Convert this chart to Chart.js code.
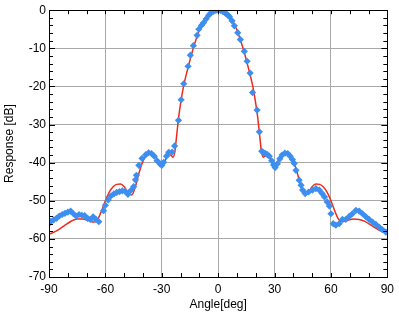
<!DOCTYPE html>
<html>
<head>
<meta charset="utf-8">
<script src="https://cdn.jsdelivr.net/npm/chart.js@4/dist/chart.umd.min.js"></script>
<style>
  html, body { margin: 0; padding: 0; background: #fff; }
  #wrap { width: 399px; height: 315px; }
</style>
</head>
<body>
<div id="wrap"><canvas id="beam"></canvas></div>
<script>
// model (red line)
const modelAngle = [-90, -86, -82, -78, -75, -72, -69, -66, -64, -62, -60, -58, -56, -54, -52, -50, -48, -46, -44, -42, -40, -38, -36.5, -35, -33, -31, -30, -29, -28, -27, -26, -25, -24, -23, -22, -21, -20, -19, -18, -16, -14, -12, -10, -8, -6, -4, -2, 0,
  2, 4, 6, 8, 10, 12, 14, 16, 18, 19, 20, 21, 22, 23, 24, 25, 26, 27, 28, 29, 30, 31, 33, 35, 36.5, 38, 40, 42, 44, 46, 48, 50, 52, 54, 56, 58, 60, 62, 64, 66, 69, 72, 75, 78, 82, 86, 90];
const modelDb = [-58.8, -57.9, -56.6, -55.3, -54.8, -54.8, -55.2, -55.6, -54.8, -52.6, -50.0, -47.8, -46.4, -45.7, -45.6, -46.3, -47.8, -48.5, -46.2, -42.5, -39.6, -37.8, -37.2, -37.5, -38.6, -40.2, -40.7, -40.3, -39.2, -38.2, -37.9, -38.1, -38.6, -37.0, -32.5, -28.0, -24.5, -21.5, -19.0, -15.0, -11.3, -8.0, -5.2, -3.1, -1.7, -0.7, -0.15, 0,
  -0.15, -0.7, -1.7, -3.1, -5.2, -8.0, -11.3, -15.0, -19.0, -21.5, -24.5, -28.0, -32.5, -37.0, -38.6, -38.1, -37.9, -38.2, -39.2, -40.3, -40.7, -40.2, -38.6, -37.5, -37.2, -37.8, -39.6, -42.5, -46.2, -48.5, -47.8, -46.3, -45.6, -45.7, -46.4, -47.8, -50.0, -52.6, -54.8, -55.5, -55.1, -54.8, -54.9, -55.4, -56.6, -57.8, -58.6];

// measured (blue diamonds)
const measAngle = [-90, -89, -87.5, -86, -84.5, -83, -81.5, -80, -78.5, -77, -75.5, -74, -72.5, -71, -69.5, -68, -66.5, -65, -63.5, -61, -60, -58.5, -57, -55.5, -54, -52.5, -51, -49.5, -48, -46.5, -45, -44, -43.5, -42.2, -40.5, -38.5, -37, -35.5, -34, -32.5, -31, -30, -29, -27.5, -26.3, -24.5, -23.2, -21.1, -19.7, -18.3, -16, -14.8, -13.2, -11.2, -10.3, -8.9, -7.8, -6.4, -5, -3.8, -2.5, -1.2, 0,
  1.2, 2.4, 3.4, 4.2, 5.2, 6, 7.4, 8.6, 10.4, 11.8, 13.9, 15.4, 17, 18.3, 20.7, 21.9, 23.2, 24.2, 25.2, 26.2, 27.2, 28.5, 29.5, 30.3, 31.5, 32.8, 34, 35.5, 37, 38.3, 39.5, 40.5, 41.4, 43.1, 44.1, 44.9, 46.3, 48.1, 50.2, 52, 53.8, 55.3, 56.6, 58, 59.2, 60, 61.2, 62.6, 64.4, 66.1, 67.9, 69.7, 71.4, 73.3, 75, 76.8, 78.6, 80.3, 82.1, 83.9, 85.6, 87.4, 89.2];
const measDb = [-56.0, -55.4, -55.0, -54.6, -54.0, -53.6, -53.3, -53.0, -52.7, -53.4, -54.0, -53.6, -53.8, -53.9, -54.6, -54.9, -54.2, -54.9, -55.5, -52.6, -51.2, -49.8, -48.7, -48.2, -47.8, -47.6, -47.4, -47.5, -48.3, -47.3, -46.3, -44.5, -43.3, -40.7, -38.9, -37.9, -37.4, -37.6, -38.3, -39.5, -40.3, -40.7, -39.9, -38.3, -37.3, -37.2, -35.6, -28.9, -23.5, -19.3, -14.7, -11.8, -9.3, -6.6, -5.0, -4.0, -3.3, -2.3, -1.3, -0.7, -0.3, -0.05, 0,
  -0.05, -0.3, -0.6, -0.9, -1.3, -1.7, -2.8, -4.1, -5.9, -7.7, -10.8, -13.4, -16.5, -21.6, -26.2, -31.9, -37.0, -37.4, -37.6, -37.9, -38.3, -39.5, -40.6, -41.3, -40.3, -39.0, -38.0, -37.5, -37.6, -38.3, -39.2, -40.2, -42.0, -44.6, -45.9, -47.2, -48.1, -47.7, -47.2, -46.8, -47.2, -48.1, -49.0, -50.3, -51.4, -53.4, -56.0, -56.4, -56.0, -54.9, -54.9, -54.1, -53.4, -52.5, -52.7, -53.4, -54.2, -54.9, -55.6, -56.2, -56.9, -57.6, -58.2];

const xTicks = [-90, -60, -30, 0, 30, 60, 90];
const yTicks = [0, -10, -20, -30, -40, -50, -60, -70];

const FONT = "'Liberation Sans', Arial, Helvetica, sans-serif";

// small inward ticks on all four sides of the frame
const frameTicks = {
  id: "frameTicks",
  afterDatasetsDraw(chart) {
    const { ctx, chartArea: a, scales } = chart;
    ctx.save();
    ctx.strokeStyle = "#000";
    ctx.lineWidth = 1;
    ctx.beginPath();
    for (let v = -80; v <= 80; v += 10) {
      const px = Math.round(scales.x.getPixelForValue(v)) + 0.5;
      ctx.moveTo(px, a.top); ctx.lineTo(px, a.top + 4);
      ctx.moveTo(px, a.bottom); ctx.lineTo(px, a.bottom - 4);
    }
    for (let v = -68; v <= -2; v += 2) {
      const py = Math.round(scales.y.getPixelForValue(v)) + 0.5;
      const len = v % 10 === 0 ? 6 : 4;
      ctx.moveTo(a.left, py); ctx.lineTo(a.left + len, py);
      ctx.moveTo(a.right, py); ctx.lineTo(a.right - len, py);
    }
    ctx.stroke();
    ctx.strokeRect(Math.round(a.left) + 0.5, Math.round(a.top) + 0.5,
      Math.round(a.right - a.left), Math.round(a.bottom - a.top));
    ctx.restore();
  },
};

new Chart(document.getElementById("beam"), {
  type: "scatter",
  data: {
    datasets: [
      {
        label: "measured",
        data: measAngle.map((a, i) => ({ x: a, y: measDb[i] })),
        showLine: false,
        pointStyle: "rectRot",
        pointRadius: 3.6,
        backgroundColor: "#3c8ff0",
        borderColor: "#3c8ff0",
        borderWidth: 0,
      },
      {
        label: "model",
        data: modelAngle.map((a, i) => ({ x: a, y: modelDb[i] })),
        showLine: true,
        pointRadius: 0,
        borderColor: "#ee2a1a",
        borderWidth: 1.5,
        cubicInterpolationMode: "monotone",
      },
    ],
  },
  options: {
    responsive: true,
    maintainAspectRatio: false,
    animation: false,
    layout: { padding: { top: 10, right: 11, left: 0, bottom: 0 } },
    plugins: { legend: { display: false }, tooltip: { enabled: false } },
    scales: {
      x: {
        type: "linear",
        min: -90,
        max: 90,
        afterBuildTicks: (s) => { s.ticks = xTicks.map((v) => ({ value: v })); },
        afterFit: (s) => { s.height = 38; },
        grid: { color: "#a8a8a8", lineWidth: 1, drawTicks: false },
        border: { display: false },
        ticks: { color: "#000", padding: 5, font: { family: FONT, size: 12 } },
        title: { display: true, text: "Angle[deg]", color: "#000", padding: { top: 0, bottom: 3 }, font: { family: FONT, size: 12 } },
      },
      y: {
        type: "linear",
        min: -70,
        max: 0,
        afterBuildTicks: (s) => { s.ticks = yTicks.map((v) => ({ value: v })); },
        afterFit: (s) => { s.width = 49; },
        grid: { color: "#a8a8a8", lineWidth: 1, drawTicks: false },
        border: { display: false },
        ticks: { color: "#000", padding: 3, font: { family: FONT, size: 12 } },
        title: { display: true, text: "Response [dB]", color: "#000", padding: { top: 2, bottom: 0 }, font: { family: FONT, size: 12 } },
      },
    },
  },
  plugins: [frameTicks],
});
</script>
</body>
</html>
